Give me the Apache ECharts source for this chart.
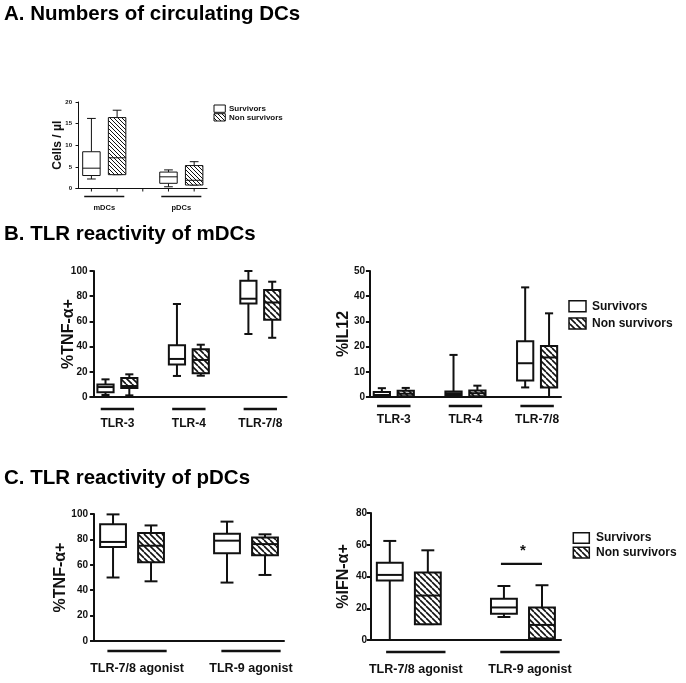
<!DOCTYPE html>
<html><head><meta charset="utf-8">
<script src="https://cdn.jsdelivr.net/npm/echarts@6/dist/echarts.min.js"></script>
<style>html,body{margin:0;padding:0;background:#fff}#c{width:686px;height:683px}</style>
</head><body><div id="c"></div>
<script>
// ---------- DATA (box = [min, q1, median, q3, max]) ----------
const seriesNames = ['Survivors', 'Non survivors'];

// A. Numbers of circulating DCs
const aGroups = ['mDCs', 'pDCs'];
const aSurv = [[2.2, 3.0, 4.7, 8.5, 16.2], [0.4, 1.2, 2.7, 3.8, 4.3]];
const aNon  = [[3.2, 3.2, 7.1, 16.4, 18.1], [0.8, 0.8, 1.9, 5.3, 6.2]];
const aTicks = [0, 5, 10, 15, 20];

// B. TLR reactivity of mDCs
const bGroups = ['TLR-3', 'TLR-4', 'TLR-7/8'];
const bTnfSurv = [[1.6, 3.7, 7.9, 10, 14], [16.7, 25.7, 30.2, 41, 73.8], [50, 74.3, 78, 92.3, 100]];
const bTnfNon  = [[1.3, 7.1, 8.7, 15, 18], [16.9, 18.8, 29.4, 37.8, 41.5], [47, 61.4, 75, 85, 91.5]];
const bTnfTicks = [0, 20, 40, 60, 80, 100];
const bIl12Surv = [[0, 0.3, 0.8, 2, 3.5], [0.3, 0.8, 1.5, 2.2, 16.7], [3.8, 6.5, 13.4, 22.1, 43.5]];
const bIl12Non  = [[0.1, 0.3, 1.3, 2.5, 3.6], [0.2, 0.3, 1.5, 2.6, 4.5], [0, 3.8, 15.7, 20.2, 33.2]];
const bIl12Ticks = [0, 10, 20, 30, 40, 50];

// C. TLR reactivity of pDCs
const cGroups = ['TLR-7/8 agonist', 'TLR-9 agonist'];
const cTnfSurv = [[50, 74, 78, 92, 99.7], [46, 69, 79, 84.5, 94]];
const cTnfNon  = [[47, 62, 75, 85, 91], [52, 67.6, 76.3, 81.5, 84]];
const cTnfTicks = [0, 20, 40, 60, 80, 100];
const cIfnSurv = [[0, 37.5, 41, 48.6, 62.4], [14.5, 16.5, 20.5, 26, 34]];
const cIfnNon  = [[10, 10, 28, 42.5, 56.5], [1, 1, 9.5, 20.5, 34.5]];
const cIfnTicks = [0, 20, 40, 60, 80];
// significance: group index, bar level, star level
const cIfnSig = [[1, 48, 56, '*']];

// ---------- STYLE / LAYOUT ----------
const FF = '"Liberation Sans", Arial, Helvetica, sans-serif';
const INK = '#111';

function hatch(s, lw) {
  const c = document.createElement('canvas');
  c.width = s; c.height = s;
  const g = c.getContext('2d');
  g.fillStyle = '#fff'; g.fillRect(0, 0, s, s);
  g.strokeStyle = INK; g.lineWidth = lw;
  g.beginPath();
  for (let k = -1; k <= 1; k++) { g.moveTo(k * s, 0); g.lineTo(k * s + s, s); }
  g.stroke();
  return { image: c, repeat: 'repeat' };
}

const small = { lw: 1, axisLw: 1, tickLen: 3, tickLabelSize: 6, labelMargin: 4, nameSize: 12, catSize: 7.5,
  barHalf: 0.78, barLw: 1.5, hatch: hatch(4, 1), xTicks: true };
const big = { lw: 2, axisLw: 2, tickLen: 4, tickLabelSize: 10, labelMargin: 3, nameSize: 16, catSize: 12,
  barHalf: 0.7, barLw: 2.5, hatch: hatch(6, 1.6), xTicks: false };

const panels = [
  Object.assign({}, small, { groups: aGroups, surv: aSurv, non: aNon, ticks: aTicks, name: 'Cells / µl',
    grid: { left: 76, top: 102, width: 131, height: 86.5 }, xMin: -0.1, xMax: 5, nameGap: 12,
    barOff: 8, labelOff: 19, barShift: 0 }),
  Object.assign({}, big, { groups: bGroups, surv: bTnfSurv, non: bTnfNon, ticks: bTnfTicks, name: '%TNF-α+',
    grid: { left: 90.5, top: 271, width: 196, height: 126 }, xMin: -0.13, xMax: 8.1, nameGap: 14,
    barOff: 12, labelOff: 27, barShift: 0 }),
  Object.assign({}, big, { groups: bGroups, surv: bIl12Surv, non: bIl12Non, ticks: bIl12Ticks, name: '%IL12',
    grid: { left: 368, top: 271, width: 193, height: 126 }, xMin: -0.08, xMax: 8, nameGap: 16,
    barOff: 9, labelOff: 23, barShift: 0 }),
  Object.assign({}, big, { groups: cGroups, surv: cTnfSurv, non: cTnfNon, ticks: cTnfTicks, name: '%TNF-α+',
    grid: { left: 91, top: 514, width: 193, height: 127 }, xMin: -0.08, xMax: 5, nameGap: 22, catSize: 12.5,
    barOff: 10, labelOff: 28, barHalf: 0.78, barShift: 5 }),
  Object.assign({}, big, { groups: cGroups, surv: cIfnSurv, non: cIfnNon, ticks: cIfnTicks, name: '%IFN-α+',
    grid: { left: 370, top: 513, width: 191, height: 127 }, xMin: -0.02, xMax: 5, nameGap: 18, catSize: 12.5,
    barOff: 12, labelOff: 30, barHalf: 0.78, barShift: 7, sig: cIfnSig }),
];

// ---------- BUILD ----------
const option = { animation: false, backgroundColor: '#fff', grid: [], xAxis: [], yAxis: [], series: [], graphic: [] };

function boxRender(p, filled) {
  return function (params, api) {
    const x = api.value(0);
    const y = k => api.coord([x, api.value(k)])[1];
    const cx = api.coord([x, 0])[0];
    const y0 = api.coord([x, p.ticks[0]])[1];
    const slot = api.size([1, 0])[0];
    const bw = slot * 0.68, cw = bw / 2;
    const ls = { stroke: INK, lineWidth: p.lw, fill: null };
    const ch = [
      { type: 'line', shape: { x1: cx, y1: y(4), x2: cx, y2: y(5) }, style: ls },
      { type: 'line', shape: { x1: cx - cw / 2, y1: y(5), x2: cx + cw / 2, y2: y(5) }, style: ls },
      { type: 'line', shape: { x1: cx, y1: y(2), x2: cx, y2: y(1) }, style: ls },
      { type: 'line', shape: { x1: cx - cw / 2, y1: y(1), x2: cx + cw / 2, y2: y(1) }, style: ls },
      { type: 'rect', shape: { x: cx - bw / 2, y: y(4), width: bw, height: y(2) - y(4) },
        style: { fill: filled ? p.hatch : '#fff', stroke: INK, lineWidth: p.lw } },
      { type: 'line', shape: { x1: cx - bw / 2, y1: y(3), x2: cx + bw / 2, y2: y(3) }, style: ls },
    ];
    if (p.xTicks) ch.push({ type: 'line', shape: { x1: cx, y1: y0, x2: cx, y2: y0 + p.tickLen }, style: ls });
    return { type: 'group', children: ch };
  };
}

panels.forEach((p, i) => {
  option.grid.push(Object.assign({ containLabel: false }, p.grid));
  option.xAxis.push({ gridIndex: i, type: 'value', min: p.xMin, max: p.xMax,
    axisLine: { show: true, onZero: false, lineStyle: { color: INK, width: p.axisLw } },
    axisTick: { show: false }, axisLabel: { show: false }, splitLine: { show: false } });
  const t = p.ticks;
  option.yAxis.push({ gridIndex: i, type: 'value', min: t[0], max: t[t.length - 1], interval: t[1] - t[0],
    axisLine: { show: true, lineStyle: { color: INK, width: p.axisLw } },
    axisTick: { show: true, length: p.tickLen, lineStyle: { color: INK, width: p.axisLw } },
    axisLabel: { fontSize: p.tickLabelSize, fontWeight: 'bold', color: INK, fontFamily: FF, margin: p.labelMargin },
    splitLine: { show: false },
    name: p.name, nameLocation: 'middle', nameRotate: 90, nameGap: p.nameGap, nameMoveOverlap: false,
    nameTextStyle: { fontSize: p.nameSize, fontWeight: 'bold', color: INK, fontFamily: FF } });

  [p.surv, p.non].forEach((arr, s) => {
    option.series.push({ type: 'custom', name: seriesNames[s], xAxisIndex: i, yAxisIndex: i, clip: false,
      data: arr.map((d, g) => [3 * g + 0.5 + s].concat(d)),
      encode: { x: 0, y: [1, 2, 3, 4, 5] },
      renderItem: boxRender(p, s === 1) });
  });

  // group bars + category labels (and gap ticks for panel A)
  option.series.push({ type: 'custom', xAxisIndex: i, yAxisIndex: i, clip: false,
    data: p.groups.map((g, gi) => [3 * gi + 1, t[0], gi]),
    encode: { x: 0, y: 1 },
    renderItem: function (params, api) {
      const gi = api.value(2);
      const c = api.coord([api.value(0), api.value(1)]);
      const slot = api.size([1, 0])[0];
      const cx = c[0] + p.barShift, y0 = c[1];
      const ch = [
        { type: 'line', shape: { x1: cx - p.barHalf * slot, y1: y0 + p.barOff, x2: cx + p.barHalf * slot, y2: y0 + p.barOff },
          style: { stroke: INK, lineWidth: p.barLw } },
        { type: 'text', style: { text: p.groups[gi], x: cx, y: y0 + p.labelOff, align: 'center', verticalAlign: 'middle',
          fill: INK, font: 'bold ' + p.catSize + 'px ' + FF } },
      ];
      if (p.xTicks && gi < p.groups.length - 1) {
        const gx = api.coord([api.value(0) + 1.5, api.value(1)])[0];
        ch.push({ type: 'line', shape: { x1: gx, y1: y0, x2: gx, y2: y0 + p.tickLen }, style: { stroke: INK, lineWidth: p.lw } });
      }
      return { type: 'group', children: ch };
    } });

  if (p.sig) {
    option.series.push({ type: 'custom', xAxisIndex: i, yAxisIndex: i, clip: false,
      data: p.sig.map(s => [3 * s[0] + 0.5, s[1], 3 * s[0] + 1.5, s[2], s[3]]),
      encode: { x: [0, 2], y: [1, 3] },
      renderItem: function (params, api) {
        const a = api.coord([api.value(0), api.value(1)]);
        const b = api.coord([api.value(2), api.value(1)]);
        const st = api.coord([(api.value(0) + api.value(2)) / 2, api.value(3)]);
        return { type: 'group', children: [
          { type: 'line', shape: { x1: a[0] - 3, y1: a[1], x2: b[0], y2: b[1] }, style: { stroke: INK, lineWidth: 2.2 } },
          { type: 'text', style: { text: p.sig[params.dataIndex][3], x: st[0], y: st[1], align: 'center', verticalAlign: 'middle',
            fill: INK, font: 'bold 15px ' + FF } },
        ] };
      } });
  }
});

// titles
[['A. Numbers of circulating DCs', 15], ['B. TLR reactivity of mDCs', 235], ['C. TLR reactivity of pDCs', 479]].forEach(tt => {
  option.graphic.push({ type: 'text', left: 4, top: tt[1] - 11, style: { text: tt[0], fill: '#000', font: 'bold 20.5px ' + FF } });
});

// legends
function legend(x, y1, y2, w, h, tx, fs, lw, pat) {
  [y1, y2].forEach((yy, k) => {
    option.graphic.push({ type: 'rect', shape: { x: x, y: yy, width: w, height: h },
      style: { fill: k ? pat : '#fff', stroke: INK, lineWidth: lw } });
    option.graphic.push({ type: 'text', x: tx, y: yy + h / 2, style: { text: seriesNames[k], fill: INK,
      font: 'bold ' + fs + 'px ' + FF, verticalAlign: 'middle', align: 'left' } });
  });
}
legend(214, 105, 113.7, 11.3, 7.3, 229, 8, 1, small.hatch);
legend(569, 300.7, 318, 17, 11, 592, 12, 1.5, big.hatch);
legend(573.3, 532.7, 547.3, 16, 10.6, 596, 12, 1.5, big.hatch);

const chart = echarts.init(document.getElementById('c'), null, { renderer: 'canvas' });
chart.setOption(option);
</script>
</body></html>
